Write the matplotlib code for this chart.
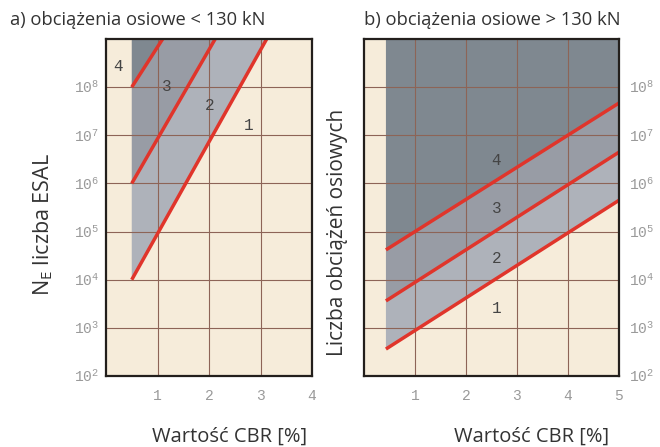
import matplotlib.pyplot as plt

plt.rcParams['font.family'] = 'Open Sans'
plt.rcParams['mathtext.fontset'] = 'custom'
plt.rcParams['mathtext.rm'] = 'Liberation Mono'
plt.rcParams['mathtext.it'] = 'Liberation Mono'
plt.rcParams['mathtext.sf'] = 'Open Sans'

# chart data
y_min, y_max = 1e2, 1e9

# a) axle loads < 130 kN : boundary lines
a_line1_x = [0.5, 3.12]
a_line1_y = [1e4, 1e9]
a_line3_x = [0.5, 2.12]
a_line3_y = [1e6, 1e9]
a_line4_x = [0.5, 1.10]
a_line4_y = [1e8, 1e9]

# b) axle loads > 130 kN : boundary lines
b_x = [0.43, 5.0]
b_line1_y = [10**2.56, 10**5.65]
b_line3_y = [10**3.56, 10**6.65]
b_line4_y = [10**4.62, 10**7.67]

a_xticks = [1, 2, 3, 4]
b_xticks = [1, 2, 3, 4, 5]
y_exps = [2, 3, 4, 5, 6, 7, 8]

a_zone_labels = ['4', '3', '2', '1']
a_zone_x = [0.24, 1.18, 2.0, 2.76]
a_zone_y = [10**8.42, 10**8.0, 10**7.6, 10**7.19]
b_zone_labels = ['4', '3', '2', '1']
b_zone_x = [2.59, 2.59, 2.59, 2.59]
b_zone_y = [10**6.46, 10**5.46, 10**4.44, 10**3.4]

cream = '#f6ecda'
dark = '#7f8890'
mid = '#989ca5'
light = '#aeb2ba'
red = '#e0352b'
grid_c = '#8d6457'
tick_c = '#9a9a9a'
text_c = '#333333'

fig = plt.figure(figsize=(6.6, 4.47), dpi=100)
ax_a = fig.add_axes([106/660, 71/447, 206/660, 337/447])
ax_b = fig.add_axes([364/660, 71/447, 255/660, 337/447])

# panel a fills
ax_a.fill(a_line4_x + [a_line4_x[0]], a_line4_y + [y_max], color=dark, lw=0)
ax_a.fill(a_line3_x + a_line4_x[::-1], a_line3_y + a_line4_y[::-1], color=mid, lw=0)
ax_a.fill(a_line1_x + a_line3_x[::-1], a_line1_y + a_line3_y[::-1], color=light, lw=0)
for xs, ys in [(a_line1_x, a_line1_y), (a_line3_x, a_line3_y), (a_line4_x, a_line4_y)]:
    ax_a.plot(xs, ys, color=red, lw=2.5, zorder=4, solid_capstyle='butt')

# panel b fills
ax_b.fill(b_x + b_x[::-1], b_line4_y + [y_max, y_max], color=dark, lw=0)
ax_b.fill(b_x + b_x[::-1], b_line3_y + b_line4_y[::-1], color=mid, lw=0)
ax_b.fill(b_x + b_x[::-1], b_line1_y + b_line3_y[::-1], color=light, lw=0)
for ys in [b_line1_y, b_line3_y, b_line4_y]:
    ax_b.plot(b_x, ys, color=red, lw=2.5, zorder=4, solid_capstyle='butt')

for ax, xmax, xt in [(ax_a, 4, a_xticks), (ax_b, 5, b_xticks)]:
    ax.set_facecolor(cream)
    ax.set_yscale('log')
    ax.set_ylim(y_min, y_max)
    ax.set_xlim(0, xmax)
    ax.set_xticks(xt)
    ax.set_xticklabels([r'$\mathrm{%d}$' % v for v in xt])
    ax.set_yticks([10.0**e for e in y_exps])
    ax.set_yticklabels([r'$\mathrm{10}^{\mathrm{%d}}$' % e for e in y_exps])
    ax.minorticks_off()
    ax.tick_params(length=0, labelsize=10.5, colors=tick_c)
    ax.tick_params(axis='x', pad=9)
    ax.grid(True, color=grid_c, lw=0.8)
    ax.set_axisbelow(False)
    for s in ax.spines.values():
        s.set_linewidth(1.6)
        s.set_color('#231f1c')
        s.set_zorder(5)

ax_a.tick_params(axis='y', pad=5)
ax_b.yaxis.tick_right()
ax_b.tick_params(axis='y', pad=7)

for lab, x, y in zip(a_zone_labels, a_zone_x, a_zone_y):
    ax_a.text(x, y, r'$\mathrm{%s}$' % lab, fontsize=11.5, color='#444444', ha='center', va='center', zorder=6)
for lab, x, y in zip(b_zone_labels, b_zone_x, b_zone_y):
    ax_b.text(x, y, r'$\mathrm{%s}$' % lab, fontsize=11.5, color='#444444', ha='center', va='center', zorder=6)

fig.text(10/660, 1 - 20/447, 'a) obciążenia osiowe < 130 kN', fontsize=13.2, color=text_c, ha='left', va='center')
fig.text(364/660, 1 - 20/447, 'b) obciążenia osiowe > 130 kN', fontsize=13.2, color=text_c, ha='left', va='center')
fig.text(230/660, 1 - 437/447, 'Wartość CBR [%]', fontsize=14.5, color=text_c, ha='center', va='center')
fig.text(532/660, 1 - 437/447, 'Wartość CBR [%]', fontsize=14.5, color=text_c, ha='center', va='center')
fig.text(43/660, 1 - 225/447, r'$\mathsf{N}_{\mathsf{E}}$ liczba ESAL', fontsize=15.5, color=text_c,
         ha='center', va='center', rotation=90)
fig.text(337/660, 1 - 232/447, 'Liczba obciążeń osiowych', fontsize=15, color=text_c,
         ha='center', va='center', rotation=90)

fig.savefig('out.png', dpi=100)
